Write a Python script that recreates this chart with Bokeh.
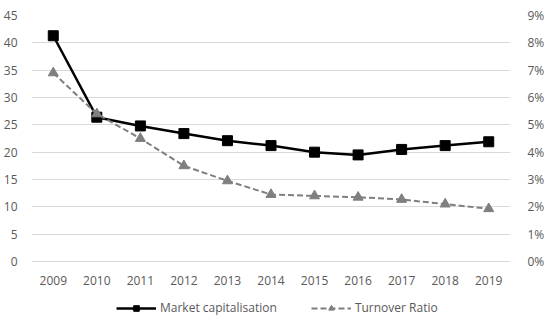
from bokeh.plotting import figure
from bokeh.models import Range1d, LinearAxis, FactorRange, Legend, LegendItem, CustomJSTickFormatter
from bokeh.embed import file_html
from bokeh.resources import INLINE

years = ["2009", "2010", "2011", "2012", "2013", "2014", "2015", "2016", "2017", "2018", "2019"]
market_cap = [41.3, 26.4, 24.8, 23.4, 22.1, 21.2, 20.0, 19.5, 20.5, 21.2, 21.9]
turnover_pct = [6.9, 5.4, 4.5, 3.5, 2.95, 2.45, 2.4, 2.35, 2.27, 2.1, 1.93]
left_ticks = [0, 5, 10, 15, 20, 25, 30, 35, 40, 45]
right_ticks = [0, 1, 2, 3, 4, 5, 6, 7, 8, 9]

FONT = "Open Sans"
LABEL_COLOR = "#595959"

# layout: data area 0..45 spans 246 px; the frame extends further down to hold the legend
TOP, FRAME_H, DATA_H = 15, 301, 246
y_max = 45.0
y_min = y_max - y_max * FRAME_H / DATA_H
pct_max = 9.0
pct_min = pct_max - pct_max * FRAME_H / DATA_H

p = figure(frame_width=479, frame_height=FRAME_H,
           x_range=FactorRange(*years, range_padding=0),
           y_range=Range1d(y_min, y_max), output_backend="svg", toolbar_location=None,
           min_border_left=24, min_border_right=31, min_border_top=TOP, min_border_bottom=0)
p.outline_line_color = None
p.extra_y_ranges = {"pct": Range1d(pct_min, pct_max)}

p.xgrid.grid_line_color = None
p.ygrid.ticker = left_ticks
p.ygrid.grid_line_color = "#d9d9d9"
p.ygrid.grid_line_width = 1
p.yaxis.ticker = left_ticks

def style_axis(ax):
    ax.axis_line_color = None
    ax.major_tick_line_color = None
    ax.minor_tick_line_color = None
    ax.major_label_text_font = FONT
    ax.major_label_text_font_size = "12px"
    ax.major_label_text_color = LABEL_COLOR

style_axis(p.yaxis[0])
p.yaxis[0].major_label_standoff = 8
style_axis(p.xaxis[0])
p.xaxis[0].major_label_standoff = 8
p.xaxis[0].fixed_location = 0

raxis = LinearAxis(y_range_name="pct", ticker=right_ticks,
                   formatter=CustomJSTickFormatter(code="return tick.toFixed(0) + '%';"))
style_axis(raxis)
raxis.major_label_standoff = 11
p.add_layout(raxis, "right")

l1 = p.line(years, market_cap, line_color="black", line_width=2.5)
s1 = p.scatter(years, market_cap, marker="square", size=10, fill_color="black", line_color="black")

l2 = p.line(years, turnover_pct, line_color="#7f7f7f", line_width=2, line_dash="6 3", y_range_name="pct")
s2 = p.scatter(years, turnover_pct, marker="triangle", size=10, fill_color="#7f7f7f",
               line_color="#7f7f7f", y_range_name="pct")

legend = Legend(items=[LegendItem(label="Market capitalisation", renderers=[l1, s1]),
                       LegendItem(label="Turnover Ratio", renderers=[l2, s2])],
                orientation="horizontal", location=(85, 0),
                label_text_font=FONT, label_text_font_size="12px", label_text_color=LABEL_COLOR,
                glyph_width=40, glyph_height=14, spacing=34, label_standoff=4,
                border_line_color=None, background_fill_alpha=0, padding=0, margin=0)
p.add_layout(legend, "center")

open("out.html", "w").write(file_html(p, INLINE))
